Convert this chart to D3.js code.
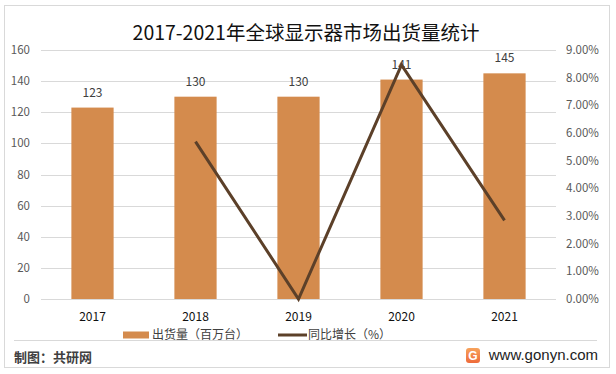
<!DOCTYPE html>
<html>
<head>
<meta charset="utf-8">
<script src="https://cdn.jsdelivr.net/npm/d3@7"></script>
<style>
  body { margin: 0; background: #fff; }
  svg { display: block; font-family: "Noto Sans CJK SC", "Liberation Sans", sans-serif; }
</style>
</head>
<body>
<svg id="chart" width="616" height="374"></svg>
<script>
// data
const years = ['2017', '2018', '2019', '2020', '2021'];
const shipments = [123, 130, 130, 141, 145];        // 百万台
const growth = [null, 5.69, 0.00, 8.46, 2.84];      // %
const leftTicks = [0, 20, 40, 60, 80, 100, 120, 140, 160];
const rightTicks = [0, 1, 2, 3, 4, 5, 6, 7, 8, 9];

const barColor = '#d48b4d';
const lineColor = '#5c4029';
const gridColor = '#d9d9d9';

const svg = d3.select('#chart');

// frame
svg.append('rect')
  .attr('x', 4.5).attr('y', 5.5)
  .attr('width', 605).attr('height', 362)
  .attr('fill', '#fff')
  .attr('stroke', '#d9d9d9');

const x = d3.scaleBand()
  .domain(years)
  .range([41, 556])
  .paddingInner(0.59)
  .paddingOuter(0.295);

const y = d3.scaleLinear().domain([0, 160]).range([299, 50]);
const y2 = d3.scaleLinear().domain([0, 9]).range([299, 50]);

// grid
svg.append('g')
  .selectAll('line')
  .data(leftTicks)
  .join('line')
  .attr('x1', 41).attr('x2', 556)
  .attr('y1', d => Math.round(y(d)) + 0.5)
  .attr('y2', d => Math.round(y(d)) + 0.5)
  .attr('stroke', gridColor);

// left axis labels
svg.append('g')
  .selectAll('text')
  .data(leftTicks)
  .join('text')
  .attr('x', 30)
  .attr('y', d => y(d))
  .attr('dy', '0.35em')
  .attr('text-anchor', 'end')
  .attr('font-size', 11.5)
  .attr('fill', '#595959')
  .text(d => d);

// right axis labels
svg.append('g')
  .selectAll('text')
  .data(rightTicks)
  .join('text')
  .attr('x', 566)
  .attr('y', d => y2(d))
  .attr('dy', '0.35em')
  .attr('font-size', 11.5)
  .attr('fill', '#595959')
  .text(d => d3.format('.2f')(d) + '%');

// bars
const rows = years.map((yr, i) => ({ yr, v: shipments[i], g: growth[i] }));

svg.append('g')
  .selectAll('rect')
  .data(rows)
  .join('rect')
  .attr('x', d => x(d.yr))
  .attr('y', d => y(d.v))
  .attr('width', x.bandwidth())
  .attr('height', d => y(0) - y(d.v))
  .attr('fill', barColor);

// bar labels
svg.append('g')
  .selectAll('text')
  .data(rows)
  .join('text')
  .attr('x', d => x(d.yr) + x.bandwidth() / 2)
  .attr('y', d => y(d.v) - 11)
  .attr('text-anchor', 'middle')
  .attr('font-size', 12)
  .attr('fill', '#404040')
  .text(d => d.v);

// growth line
const line = d3.line()
  .defined(d => d.g != null)
  .x(d => x(d.yr) + x.bandwidth() / 2)
  .y(d => y2(d.g));

svg.append('path')
  .datum(rows)
  .attr('d', line)
  .attr('fill', 'none')
  .attr('stroke', lineColor)
  .attr('stroke-width', 3)
  .attr('stroke-linejoin', 'miter');

// x labels
svg.append('g')
  .selectAll('text')
  .data(years)
  .join('text')
  .attr('x', d => x(d) + x.bandwidth() / 2)
  .attr('y', 317)
  .attr('dy', '0.35em')
  .attr('text-anchor', 'middle')
  .attr('font-size', 12)
  .attr('fill', '#111')
  .text(d => d);

// title
svg.append('text')
  .attr('x', 306).attr('y', 33)
  .attr('dy', '0.35em')
  .attr('text-anchor', 'middle')
  .attr('font-size', 19.5)
  .attr('fill', '#111')
  .text('2017-2021年全球显示器市场出货量统计');

// legend
const lg = svg.append('g');
lg.append('rect')
  .attr('x', 123).attr('y', 331.5)
  .attr('width', 26).attr('height', 7)
  .attr('fill', barColor);
lg.append('text')
  .attr('x', 152).attr('y', 335).attr('dy', '0.35em')
  .attr('font-size', 12).attr('fill', '#404040')
  .text('出货量（百万台）');
lg.append('line')
  .attr('x1', 278).attr('x2', 307)
  .attr('y1', 335).attr('y2', 335)
  .attr('stroke', lineColor).attr('stroke-width', 3);
lg.append('text')
  .attr('x', 308).attr('y', 335).attr('dy', '0.35em')
  .attr('font-size', 12).attr('fill', '#404040')
  .text('同比增长（%）');

// footer
svg.append('line')
  .attr('x1', 14).attr('x2', 597)
  .attr('y1', 340.5).attr('y2', 340.5)
  .attr('stroke', '#d9d9d9');

svg.append('text')
  .attr('x', 14).attr('y', 357).attr('dy', '0.35em')
  .attr('font-size', 13).attr('font-weight', 'bold')
  .attr('fill', '#404040')
  .text('制图：共研网');

const grad = svg.append('defs').append('linearGradient')
  .attr('id', 'logoGrad').attr('x1', 0).attr('y1', 0).attr('x2', 0).attr('y2', 1);
grad.append('stop').attr('offset', 0).attr('stop-color', '#f7a35c');
grad.append('stop').attr('offset', 1).attr('stop-color', '#ee6a3a');

svg.append('rect')
  .attr('x', 466).attr('y', 348)
  .attr('width', 14).attr('height', 15).attr('rx', 3)
  .attr('fill', 'url(#logoGrad)');
svg.append('text')
  .attr('x', 473).attr('y', 355.5).attr('dy', '0.36em')
  .attr('text-anchor', 'middle')
  .attr('font-family', 'Liberation Sans, sans-serif')
  .attr('font-weight', 'bold')
  .attr('font-size', 12).attr('fill', '#fff')
  .text('G');

svg.append('text')
  .attr('x', 598).attr('y', 355).attr('dy', '0.35em')
  .attr('text-anchor', 'end')
  .attr('font-family', 'Liberation Sans, sans-serif')
  .attr('font-size', 15).attr('fill', '#222')
  .text('www.gonyn.com');
</script>
</body>
</html>
